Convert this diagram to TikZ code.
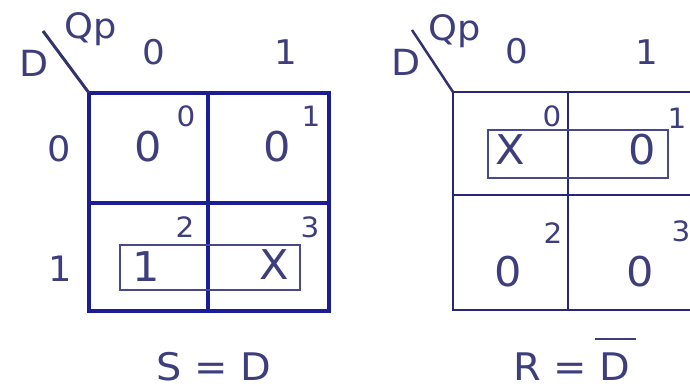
\documentclass[tikz,border=0pt]{standalone}
\usepackage{fontspec}
\setmainfont{DejaVu Sans}[FakeStretch=1.05]
\definecolor{kmtext}{RGB}{62,62,126}
\definecolor{kmthick}{RGB}{28,28,150}
\definecolor{kmthin}{RGB}{38,38,122}
\definecolor{kmgroup}{RGB}{72,72,140}
\definecolor{kmdiag}{RGB}{50,50,110}
% letter with a wide raised bar over it
\newcommand{\barred}[1]{{\setbox0\hbox{#1}\rlap{\hspace*{-5pt}\raisebox{\dimexpr\ht0+12pt\relax}{\color{kmtext}\rule{\dimexpr\wd0+10pt\relax}{2pt}}}\box0}}
\begin{document}
\begin{tikzpicture}[x=1pt,y=-1pt,
  lbl/.style={anchor=base,inner sep=0pt,text=kmtext},
  val/.style={lbl,font=\fontsize{41}{44}\selectfont},
  idx/.style={lbl,font=\fontsize{28}{30}\selectfont},
  hdr/.style={lbl,font=\fontsize{34}{36}\selectfont},
  rowhdr/.style={lbl,font=\fontsize{35}{37}\selectfont},
  var/.style={lbl,font=\fontsize{36}{38}\selectfont},
  qvar/.style={lbl,font=\fontsize{35}{37}\selectfont},
  eqn/.style={lbl,text depth=0pt,font=\fontsize{38}{40}\selectfont},
  thickgrid/.style={draw=kmthick,line width=4pt},
  thingrid/.style={draw=kmthin,line width=2pt},
  grp/.style={draw=kmgroup,line width=1.8pt}]
\useasboundingbox (0,0) rectangle (690,390);
\clip (0,0) rectangle (690,390);
\fill[white] (0,0) rectangle (690,390);

% ---------- map for S ----------
\coordinate (sA) at (89,93);
\coordinate (sB) at (329,311);
\coordinate (sD) at (43,31);
\draw[thickgrid] (sA) rectangle (sB);
\draw[thickgrid] (208,93) -- (208,311);
\draw[thickgrid] (89,203) -- (329,203);
\draw[draw=kmdiag,line width=3pt] (sD) -- (sA);
\draw[grp] (120,245) rectangle (300,290);

\node[var]  (sDlab)  at (34,77)   {D};
\node[qvar] (sQlab)  at (91,39)   {Qp};
\node[hdr]  (sc0)    at (154,65)  {0};
\node[hdr]  (sc1)    at (286,65)  {1};
\node[rowhdr] (sr0)  at (59,162)  {0};
\node[rowhdr] (sr1)  at (60,281)  {1};
\node[val]  (sv0)    at (148,162) {0};
\node[idx]  (si0)    at (186,127) {0};
\node[val]  (sv1)    at (277,162) {0};
\node[idx]  (si1)    at (311,127) {1};
\node[val]  (sv2)    at (146,281) {1};
\node[idx]  (si2)    at (185,237) {2};
\node[val]  (sv3)    at (274,279) {X};
\node[idx]  (si3)    at (310,237) {3};
\node[eqn]  (seq)    at (214,380) {S = D};

% ---------- map for R ----------
\coordinate (rA) at (453,92);
\coordinate (rB) at (700,310);
\coordinate (rD) at (412,30);
\draw[thingrid] (rA) rectangle (rB);
\draw[thingrid] (568,92) -- (568,310);
\draw[thingrid] (453,195) -- (700,195);
\draw[draw=kmdiag,line width=2.5pt] (rD) -- (rA);
\draw[grp] (488,130) rectangle (668,178);

\node[var]  (rDlab)  at (406,76)  {D};
\node[qvar] (rQlab)  at (455,41)  {Qp};
\node[hdr]  (rc0)    at (517,64)  {0};
\node[hdr]  (rc1)    at (647,65)  {1};
\node[val]  (rv0)    at (510,165) {X};
\node[idx]  (ri0)    at (552,127) {0};
\node[val]  (rv1)    at (642,165) {0};
\node[idx]  (ri1)    at (677,129) {1};
\node[val]  (rv2)    at (508,286) {0};
\node[idx]  (ri2)    at (553,243) {2};
\node[val]  (rv3)    at (640,286) {0};
\node[idx]  (ri3)    at (681,241) {3};
\node[eqn]  (req)    at (572,380) {R = \barred{D}};
\end{tikzpicture}
\end{document}
